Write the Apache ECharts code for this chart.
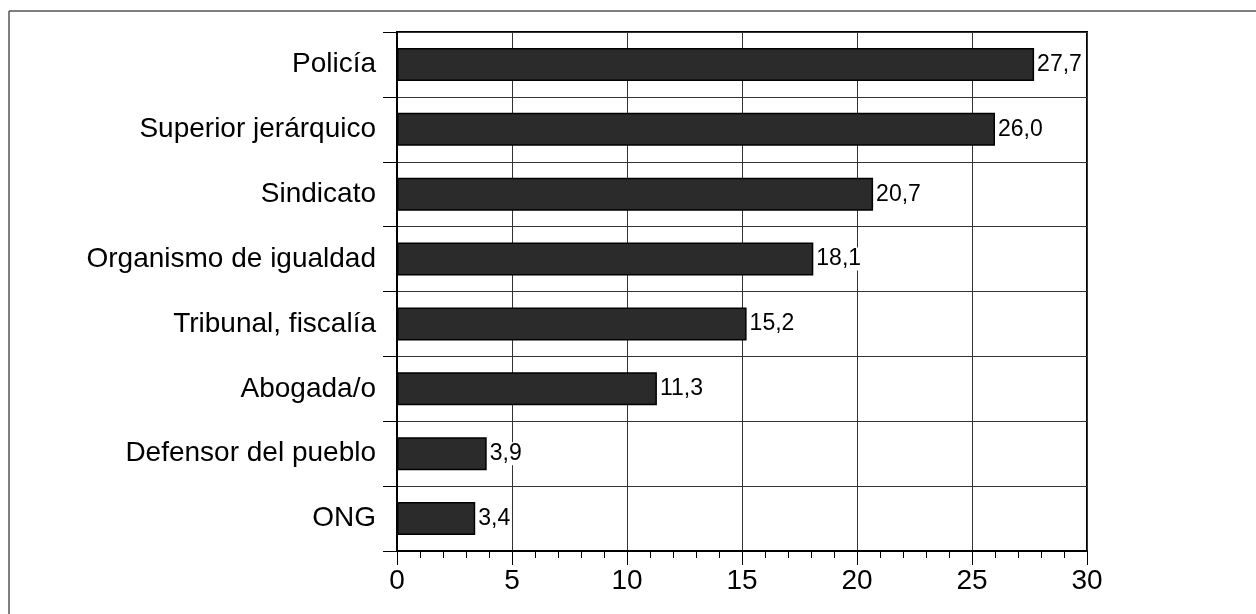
<!DOCTYPE html>
<html>
<head>
<meta charset="utf-8">
<script src="https://cdn.jsdelivr.net/npm/echarts@6/dist/echarts.min.js"></script>
<style>
html,body{margin:0;padding:0;background:#fff;}
#chart{width:1256px;height:614px;}
</style>
</head>
<body>
<div id="chart"></div>
<script>
const categories = ['Policía','Superior jerárquico','Sindicato','Organismo de igualdad','Tribunal, fiscalía','Abogada/o','Defensor del pueblo','ONG'];
const values = [27.7, 26.0, 20.7, 18.1, 15.2, 11.3, 3.9, 3.4];
const xTicks = [0, 5, 10, 15, 20, 25, 30];

const FONT = "'Liberation Sans', Arial, Helvetica, sans-serif";
const chart = echarts.init(document.getElementById('chart'), null, {renderer:'canvas'});
chart.setOption({
  animation: false,
  backgroundColor: '#fff',
  graphic: [
    {type:'line', shape:{x1:9, y1:11, x2:1256, y2:11}, style:{stroke:'#555', lineWidth:1.5}},
    {type:'line', shape:{x1:9, y1:11, x2:9, y2:614}, style:{stroke:'#555', lineWidth:1.5}}
  ],
  grid: {left:397, top:32, right:169, bottom:63, show:true, borderColor:'#000', borderWidth:2, backgroundColor:'transparent'},
  xAxis: {
    type:'value', min:xTicks[0], max:xTicks[xTicks.length-1], interval:5,
    axisLine:{show:true, onZero:false, lineStyle:{color:'#000', width:2}},
    axisTick:{show:true, length:14, lineStyle:{color:'#000', width:1}},
    minorTick:{show:true, splitNumber:5, length:7, lineStyle:{color:'#000', width:1}},
    splitLine:{show:true, lineStyle:{color:'#333', width:1}},
    axisLabel:{fontFamily:FONT, fontSize:28, color:'#000', margin:16}
  },
  yAxis: {
    type:'category', data:categories, inverse:true,
    axisLine:{show:true, lineStyle:{color:'#000', width:2}},
    axisTick:{show:true, length:14, lineStyle:{color:'#000', width:1}},
    splitLine:{show:true, lineStyle:{color:'#333', width:1}},
    axisLabel:{fontFamily:FONT, fontSize:28, color:'#000', margin:21}
  },
  series: [{
    type:'bar', data:values, barWidth:33,
    itemStyle:{color:'#2b2b2b', borderColor:'#000', borderWidth:1.5},
    label:{show:true, position:'right', distance:2, fontFamily:FONT, fontSize:23, color:'#000',
      backgroundColor:'#fff', padding:[0,1],
      formatter: p => p.value.toFixed(1).replace('.', ',')}
  }]
});
</script>
</body>
</html>
